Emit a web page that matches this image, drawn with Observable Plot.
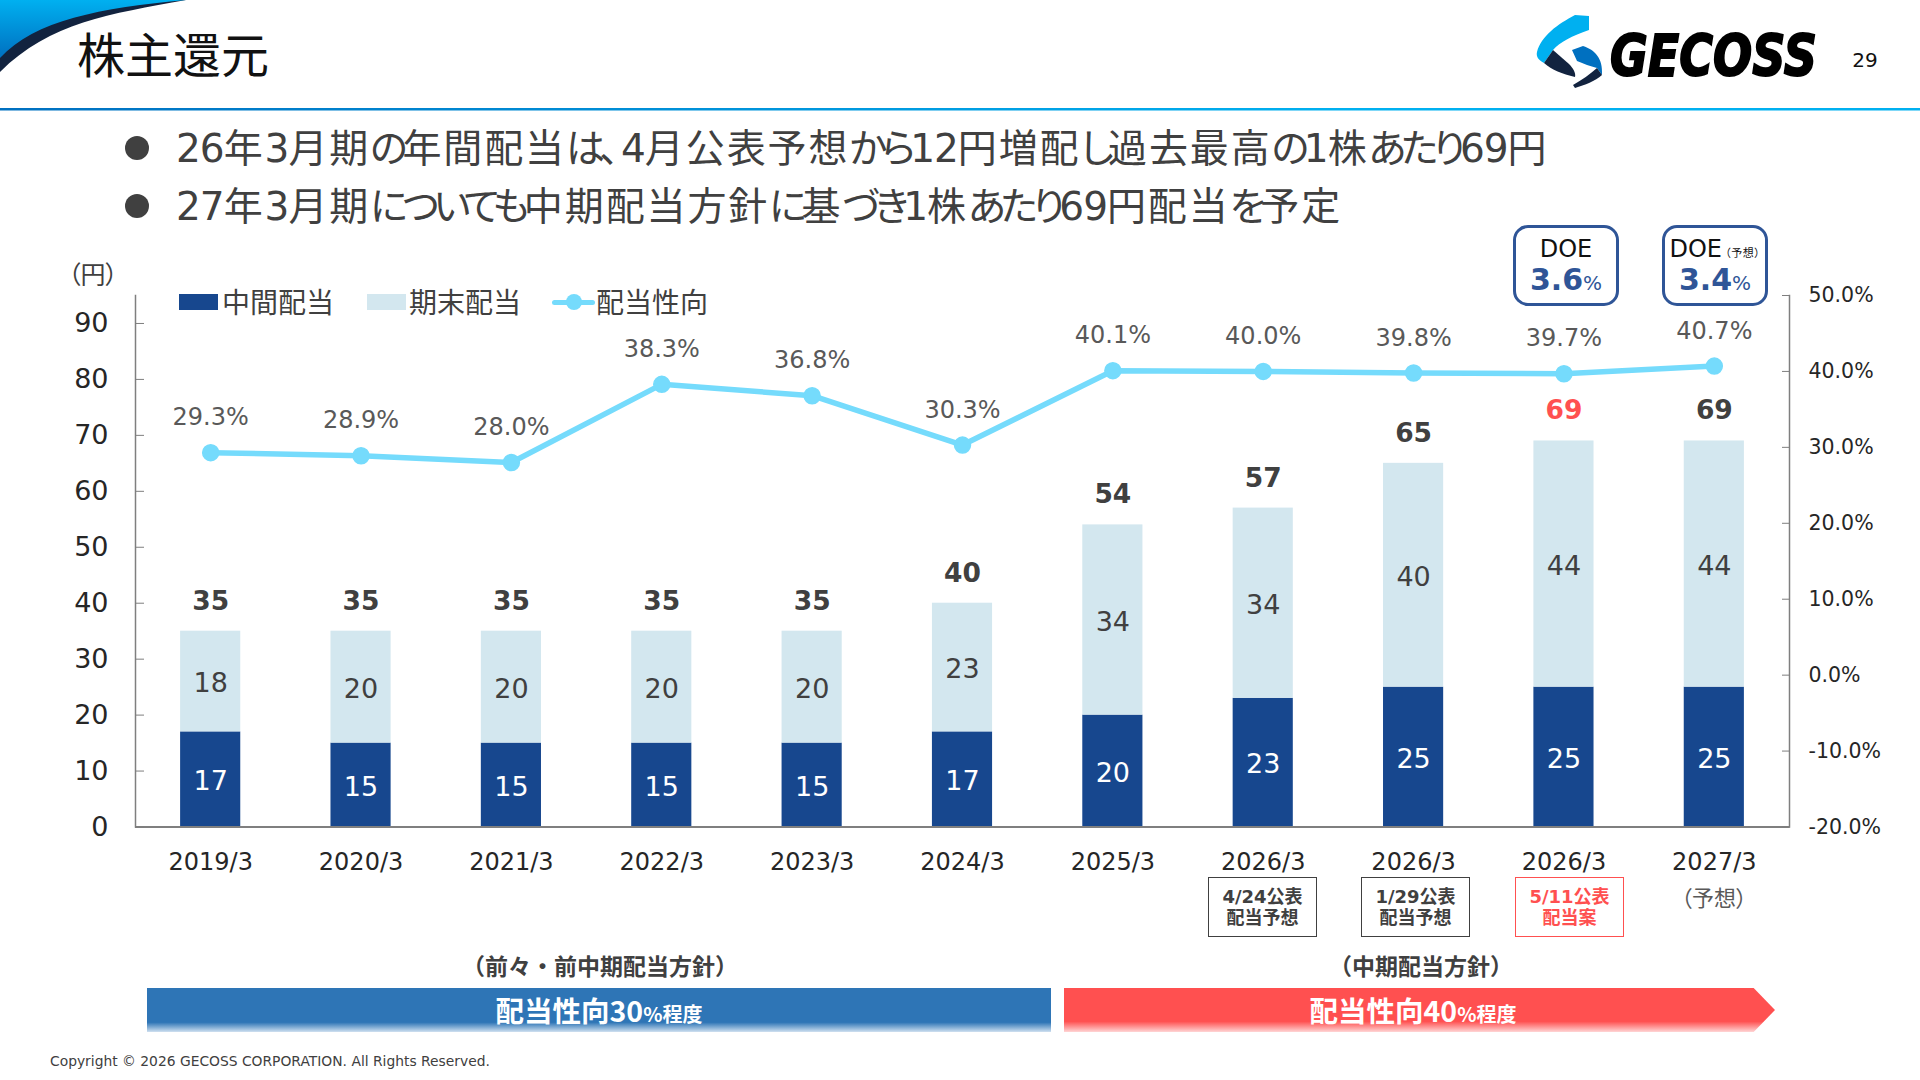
<!DOCTYPE html>
<html lang="ja"><head><meta charset="utf-8">
<script src="https://cdn.jsdelivr.net/npm/d3@7"></script>
<script src="https://cdn.jsdelivr.net/npm/@observablehq/plot@0.6"></script>
<style>
html,body{margin:0;padding:0;background:#fff;width:1920px;height:1080px;overflow:hidden}
body{font-family:"DejaVu Sans","Noto Sans CJK JP",sans-serif;color:#404040;position:relative;font-feature-settings:"palt"}
.c,.l{position:absolute;white-space:nowrap;line-height:1}
.c{transform:translate(-50%,-50%);text-align:center}
.l{transform:translateY(-50%)}
.box{position:absolute;box-sizing:border-box;background:#fff}
.doe{border:3px solid #2f5597;border-radius:15px;width:106px;height:81px;top:225px}
.note{border:1.5px solid #404040;width:109px;height:60px;top:877px;color:#404040;font-weight:700;font-size:18px;line-height:21px;text-align:center;display:flex;align-items:center;justify-content:center}
.sw{position:absolute;height:16px;width:39px;top:294px}
#chart{position:absolute;left:0;top:260px}
.band{position:absolute;top:988px;height:44px}
svg.deco{position:absolute;left:0;top:0}
.kana{letter-spacing:-5.4px}
.digit{letter-spacing:-1px}
.kanji{letter-spacing:1.9px}
.policy{top:965px;font-size:23px;font-weight:700;color:#404040;font-family:'Noto Sans CJK JP';font-feature-settings:normal}
</style></head><body>
<svg class="deco" width="1920" height="115">
<defs>
<linearGradient id="cyan" x1="0" y1="0" x2="0" y2="1"><stop offset="0" stop-color="#00b0f0"/><stop offset="1" stop-color="#0070c0"/></linearGradient>
<linearGradient id="rule" x1="0" y1="0" x2="1" y2="0"><stop offset="0" stop-color="#0070c0"/><stop offset=".7" stop-color="#00b0f0"/><stop offset="1" stop-color="#00b0f0"/></linearGradient>
</defs>
<path d="M0 0H186C110 14 50 22 0 72Z" fill="#12233f"/>
<path d="M0 0H186C100 8 35 20 0 58Z" fill="url(#cyan)"/>
<rect x="0" y="108" width="1920" height="2.5" fill="url(#rule)"/>
<path d="M1575 15L1589 16L1589 30C1572 36 1560 42 1553 50L1544 63C1538 60 1536 56 1537 52C1541 36 1558 24 1575 15Z" fill="#00b0f0"/>
<path d="M1553 50L1569 64C1573 68 1576 73 1575 77C1562 74 1552 70 1544 63Z" fill="#12233f"/>
<path d="M1572 50L1583 46C1595 50 1603 58 1602 75L1597 68C1590 66 1584 64 1577 61Z" fill="#0070c0"/>
<path d="M1597 68L1602 75C1595 81 1585 85 1575 88L1573 85C1582 80 1590 74 1597 68Z" fill="#12233f"/>
<text transform="translate(1610 76) scale(.808 1)" font-family="DejaVu Sans" font-weight="700" font-style="oblique" font-size="57" stroke="#000" stroke-width="2" fill="#000">GECOSS</text>
</svg>
<div class="l" style="left:77px;top:52px;font-size:48px;color:#111;font-family:'Noto Sans CJK JP'">株主還元</div>
<div class="c" style="left:1865px;top:60px;font-size:20px;color:#111">29</div>
<div id="bullets"></div>
<div id="chart"></div>
<div class="c" style="left:93px;top:273px;font-size:25px;font-family:'Noto Sans CJK JP';color:#404040">（円）</div>
<div id="legend"></div>
<div id="doe"></div>
<div id="notes"></div>
<div class="c" style="left:1714px;top:896px;font-size:22px;font-family:'Noto Sans CJK JP';color:#595959">（予想）</div>
<div class="c policy" style="left:600px" id="p1"></div>
<div class="c policy" style="left:1421px" id="p2"></div>
<div class="band" style="left:147px;width:904px;background:linear-gradient(#2e75b6 0,#2e75b6 78%,#cfe0f0 100%)"></div>
<div class="band" style="left:1064px;width:711px;background:linear-gradient(#ff5050 0,#ff5050 76%,#ffd5d5 100%);clip-path:polygon(0 0,97% 0,100% 50%,97% 100%,0 100%)"></div>
<div class="c" id="b1" style="left:599px;top:1010px;color:#fff;font-weight:700;font-family:'Noto Sans CJK JP'"></div>
<div class="c" id="b2" style="left:1413px;top:1010px;color:#fff;font-weight:700;font-family:'Noto Sans CJK JP'"></div>
<div class="l" style="left:50px;top:1062px;font-size:13.85px;color:#404040" id="copy"></div>
<script>
const categories = ["2019/3","2020/3","2021/3","2022/3","2023/3","2024/3","2025/3","2026/3","2026/3","2026/3","2027/3"];
const interim = [17,15,15,15,15,17,20,23,25,25,25];
const yearEnd = [18,20,20,20,20,23,34,34,40,44,44];
const totals = [35,35,35,35,35,40,54,57,65,69,69];
const payout = [29.3,28.9,28.0,38.3,36.8,30.3,40.1,40.0,39.8,39.7,40.7];
const leftTicks = [0,10,20,30,40,50,60,70,80,90];
const rightTicks = [-20,-10,0,10,20,30,40,50];
const seriesNames = ["中間配当","期末配当","配当性向"];
const headline = ["26年3月期の年間配当は、4月公表予想から12円増配し過去最高の1株あたり69円","27年3月期についても中期配当方針に基づき1株あたり69円配当を予定"];
const notes = [["4/24公表","配当予想"],["1/29公表","配当予想"],["5/11公表","配当案"]];
const policies = ["（前々・前中期配当方針）","（中期配当方針）"];
const doeValues = [["DOE","3.6"],["DOE","3.4"]];
const colors = {interim:"#17478e",yearEnd:"#d3e7ef",line:"#75dbfc",red:"#ff5050",axis:"#7f7f7f"};

const idx = categories.map((_, i) => i);
const rows = idx.flatMap(i => [
  {i, series: seriesNames[0], value: interim[i]},
  {i, series: seriesNames[1], value: yearEnd[i]}
]);
// the ratio axis (-20%..50%) shares the plot height with the yen axis (0..95)
const yMax = 95;
const toYen = r => (r + 20) * yMax / 70;
const fromYen = y => Math.round(y * 70 / yMax - 20);
const fs = {fontFamily:'"DejaVu Sans","Noto Sans CJK JP",sans-serif'};

const plot = Plot.plot({
  width:1920, height:660,
  marginLeft:135, marginRight:131, marginTop:35, marginBottom:93.5,
  style:{background:"transparent",overflow:"visible",...fs},
  x:{type:"band",domain:idx,paddingInner:0.6,paddingOuter:0.3,align:0.5,round:false},
  y:{domain:[0,yMax]},
  color:{domain:seriesNames.slice(0,2),range:[colors.interim,colors.yearEnd]},
  marks:[
    Plot.barY(rows,{x:"i",y:"value",z:"series",fill:"series",order:seriesNames}),
    Plot.text(rows,Plot.stackY({x:"i",y:"value",z:"series",order:seriesNames,text:"value",
      fill:d=>d.series===seriesNames[0]?"#fff":"#404040",fontSize:27,dy:2})),
    Plot.text(idx,{x:d=>d,y:d=>totals[d],text:d=>totals[d],dy:-30,fontSize:26.5,fontWeight:700,
      fill:d=>d===9?colors.red:"#404040"}),
    Plot.line(idx,{x:d=>d,y:d=>toYen(payout[d]),stroke:colors.line,strokeWidth:5.5}),
    Plot.dot(idx,{x:d=>d,y:d=>toYen(payout[d]),r:8,fill:colors.line,stroke:colors.line}),
    Plot.text(idx,{x:d=>d,y:d=>toYen(payout[d]),text:d=>payout[d].toFixed(1)+"%",dy:-35,fontSize:24,fill:"#595959"}),
    Plot.ruleY([0],{stroke:colors.axis,strokeWidth:2}),
    Plot.frame({anchor:"left",stroke:colors.axis,strokeWidth:1.5}),
    Plot.frame({anchor:"right",stroke:colors.axis,strokeWidth:1.5}),
    Plot.axisX(idx,{x:d=>d,tickSize:0,tickPadding:26,fontSize:24,fill:"#262626",tickFormat:d=>categories[d],label:null}),
    Plot.axisY(leftTicks,{anchor:"left",tickSize:-9,tickPadding:36,fontSize:27,fill:"#262626",stroke:colors.axis,label:null}),
    Plot.axisY(rightTicks.map(toYen),{anchor:"right",tickSize:-8,tickPadding:27,fontSize:20.5,fill:"#262626",stroke:colors.axis,label:null,
      tickFormat:v=>fromYen(v).toFixed(1)+"%"})
  ]
});
document.getElementById("chart").append(plot);

const mk=(html,cls,style)=>{const d=document.createElement("div");d.className=cls;d.style.cssText=style;d.innerHTML=html;return d;};
const spaced=t=>t.replace(/([\u3040-\u30ff]+)|([0-9]+)|([^\u3040-\u30ff0-9]+)/g,(m,k,n)=>`<span class="${k?"kana":n?"digit":"kanji"}">${m}</span>`);
const bullets=document.getElementById("bullets");
headline.forEach((t,i)=>{
  const y=[148,206][i];
  bullets.append(mk("","box",`left:125px;top:${y-12}px;width:24px;height:24px;border-radius:50%;background:#404040`));
  bullets.append(mk(spaced(t),"l",`left:176px;top:${y}px;font-size:39px;color:#404040`));
});
const legend=document.getElementById("legend");
legend.append(mk("","sw",`left:179px;background:${colors.interim}`));
legend.append(mk(seriesNames[0],"l",`left:222px;top:301px;font-size:28px;font-family:'Noto Sans CJK JP'`));
legend.append(mk("","sw",`left:367px;background:${colors.yearEnd}`));
legend.append(mk(seriesNames[1],"l",`left:409px;top:301px;font-size:28px;font-family:'Noto Sans CJK JP'`));
legend.append(mk("","box",`left:552px;top:299.5px;width:43px;height:5px;background:${colors.line};border-radius:3px`));
legend.append(mk("","box",`left:566px;top:294px;width:16px;height:16px;border-radius:50%;background:${colors.line}`));
legend.append(mk(seriesNames[2],"l",`left:596px;top:301px;font-size:28px;font-family:'Noto Sans CJK JP'`));

const doe=document.getElementById("doe");
[1513,1662].forEach((x,i)=>{
  doe.append(mk("","box doe",`left:${x}px`));
  const cx=x+53;
  doe.append(mk(doeValues[i][0]+(i?`<span style="font-size:11px;font-family:'Noto Sans CJK JP';letter-spacing:.6px"> （予想）</span>`:""),"c",`left:${cx}px;top:249px;font-size:24px;color:#111`));
  doe.append(mk(`<b style="font-size:30px">${doeValues[i][1]}</b><span style="font-size:20px">%</span>`,"c",`left:${cx}px;top:280px;color:#2f5597`));
});
const notesEl=document.getElementById("notes");
[1208,1361,1515].forEach((x,i)=>{
  const red=i===2;
  notesEl.append(mk(notes[i].join("<br>"),"box note",`left:${x}px;${red?"border-color:#ff5050;color:#ff5050;":""}`));
});
document.getElementById("p1").textContent=policies[0];
document.getElementById("p2").textContent=policies[1];
document.getElementById("b1").innerHTML=`<span style="font-size:28.5px">配当性向30</span><span style="font-size:20px">%程度</span>`;
document.getElementById("b2").innerHTML=`<span style="font-size:28.5px">配当性向40</span><span style="font-size:20px">%程度</span>`;
document.getElementById("copy").textContent="Copyright © 2026 GECOSS CORPORATION. All Rights Reserved.";
</script>
</body></html>
